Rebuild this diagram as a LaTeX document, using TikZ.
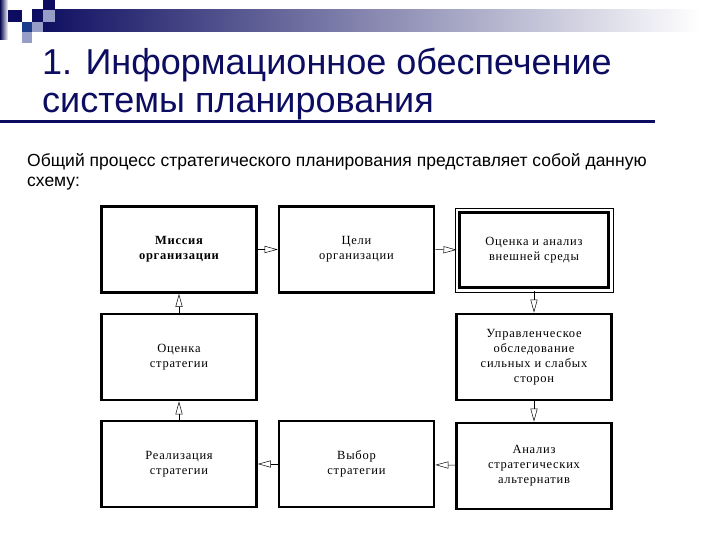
\documentclass[tikz,border=0pt]{standalone}
\usepackage{fontspec}
\setmainfont{Liberation Serif}
\newfontfamily\headfont{Liberation Sans}
\newfontfamily\boxfont[LetterSpace=6]{Liberation Serif}
\usetikzlibrary{arrows.meta,calc}
\definecolor{navy}{RGB}{12,12,96}
\definecolor{deckblue}{RGB}{30,60,140}
\definecolor{lavender}{RGB}{150,158,200}

\begin{document}
\begin{tikzpicture}[
    x=1pt, y=-1pt,
    >={Triangle[open,length=13pt,width=7pt]},
    stage/.style = {rectangle, draw=black, line width=2.6pt,
                    minimum width=155pt, minimum height=86pt,
                    align=center, inner sep=2pt,
                    font=\boxfont\fontsize{12.5}{15}\selectfont},
    flow/.style  = {->, line width=0.5pt},
    head/.style  = {anchor=base west, inner sep=0pt, text=navy,
                    font=\headfont\fontsize{36}{38}\selectfont},
    intro/.style = {anchor=base west, inner sep=0pt,
                    font=\headfont\fontsize{17.5}{18}\selectfont},
  ]
  \useasboundingbox (0,0) rectangle (720,540);
  \fill[white] (0,0) rectangle (720,540);
  % slide decoration
  \shade[left color=navy!85!black, right color=white] (0,0) rectangle (8,40);
  \shade[left color=navy, right color=white] (32,10) rectangle (700,32);
  \fill[navy] (8,10) rectangle (22,22);
  \fill[navy] (43,0) rectangle (55,10);
  \fill[lavender] (43,10) rectangle (55,22);
  \fill[deckblue] (22,22) rectangle (32,32);
  \fill[lavender] (32,22) rectangle (43,32);
  \fill[lavender] (22,32) rectangle (32,43);
  % heading
  \node[head] (title1) at (42,75)  {1. Информационное обеспечение};
  \node[head] (title2) at (42,113) {системы планирования};
  \draw[navy, line width=3pt] (0,122) -- (655,122);
  \node[intro] (intro1) at (27,167) {Общий процесс стратегического планирования представляет собой данную};
  \node[intro] (intro2) at (27,187) {схему:};
  % stages of the planning cycle
  \node[stage, font=\boxfont\bfseries\fontsize{12.5}{15}\selectfont] (mission) at (179,249.5) {Миссия\\организации};
  \node[stage] (goals)  at (356.5,249.5) {Цели\\организации};
  \node[stage, minimum width=149pt, minimum height=75pt, outer sep=3pt] (env) at (534,250) {Оценка и анализ\\внешней среды};
  \draw[line width=0.6pt] ($(env.north west)+(-1.5,-1.5)$) rectangle ($(env.south east)+(1.5,1.5)$);
  \node[stage] (assess) at (179,357)   {Оценка\\стратегии};
  \node[stage] (survey) at (534,357)   {Управленческое\\обследование\\сильных и слабых\\сторон};
  \node[stage] (impl)   at (179,464)   {Реализация\\стратегии};
  \node[stage] (choice) at (356.5,464) {Выбор\\стратегии};
  \node[stage] (alt)    at (534,466)   {Анализ\\стратегических\\альтернатив};
  % cycle edges
  \foreach \a/\b in {mission/goals, goals/env, env/survey, survey/alt,
                     alt/choice, choice/impl, impl/assess, assess/mission}
    {\draw[flow] (\a) -- (\b);}
\end{tikzpicture}
\end{document}
